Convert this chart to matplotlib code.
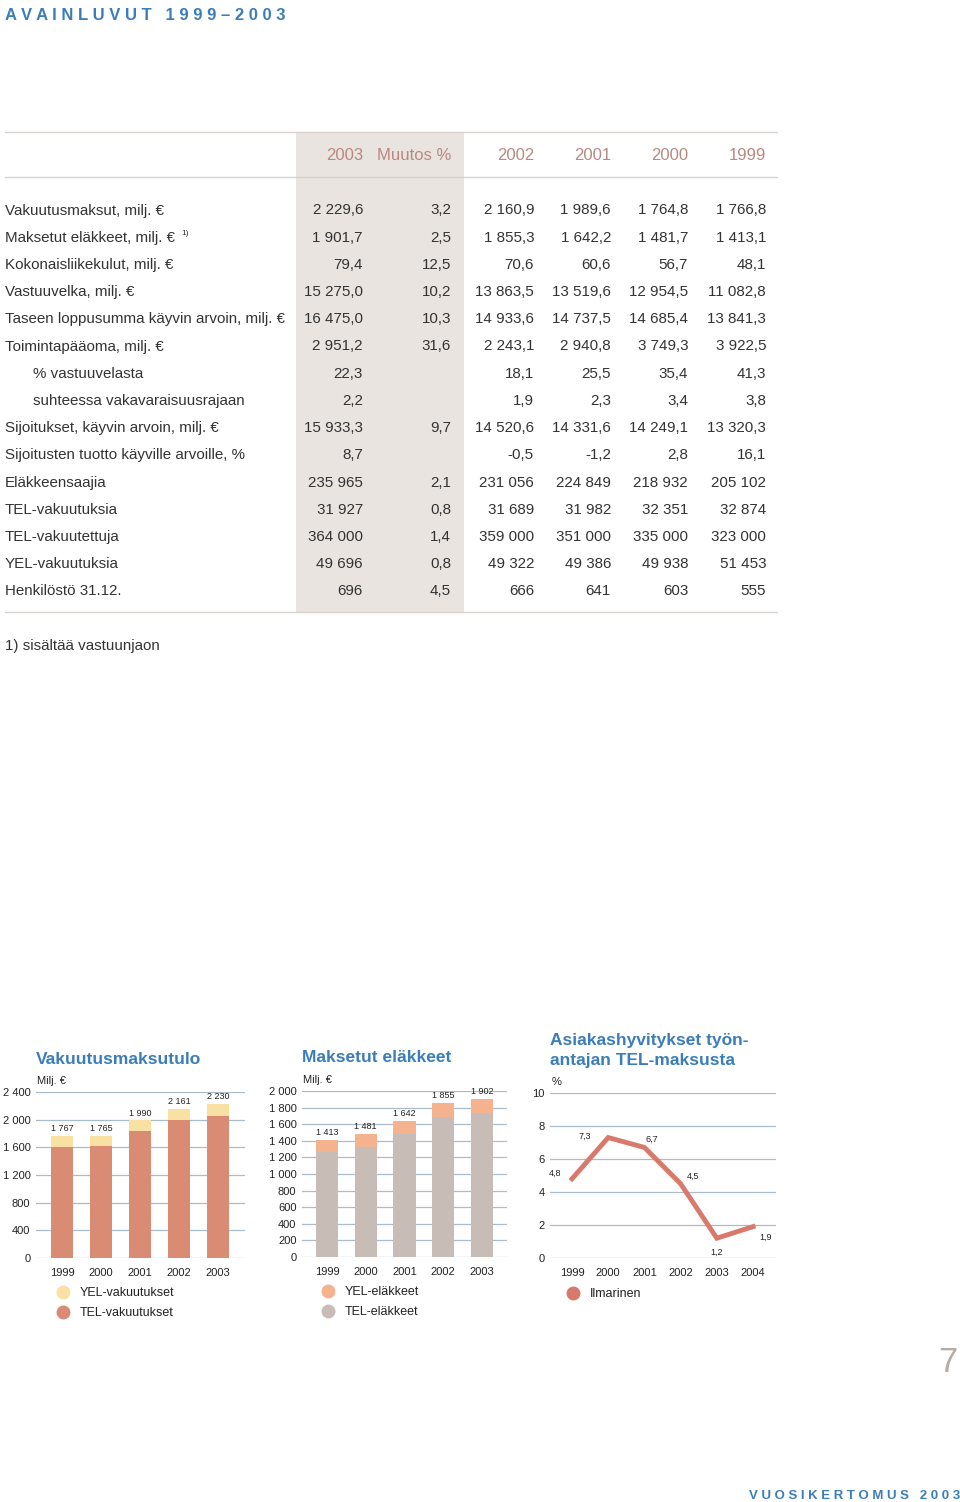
import matplotlib.pyplot as plt
from matplotlib.lines import Line2D
from matplotlib.patches import Rectangle
from matplotlib.ticker import FuncFormatter

# --- data ---
row_labels = ["Vakuutusmaksut, milj. €", "Maksetut eläkkeet, milj. €",
              "Kokonaisliikekulut, milj. €", "Vastuuvelka, milj. €",
              "Taseen loppusumma käyvin arvoin, milj. €", "Toimintapääoma, milj. €",
              "% vastuuvelasta", "suhteessa vakavaraisuusrajaan",
              "Sijoitukset, käyvin arvoin, milj. €",
              "Sijoitusten tuotto käyville arvoille, %", "Eläkkeensaajia",
              "TEL-vakuutuksia", "TEL-vakuutettuja", "YEL-vakuutuksia",
              "Henkilöstö 31.12."]
indented_rows = ["% vastuuvelasta", "suhteessa vakavaraisuusrajaan"]
col_headers = ["2003", "Muutos %", "2002", "2001", "2000", "1999"]
col_2003 = ["2 229,6", "1 901,7", "79,4", "15 275,0", "16 475,0", "2 951,2", "22,3", "2,2",
            "15 933,3", "8,7", "235 965", "31 927", "364 000", "49 696", "696"]
col_muutos = ["3,2", "2,5", "12,5", "10,2", "10,3", "31,6", "", "",
              "9,7", "", "2,1", "0,8", "1,4", "0,8", "4,5"]
col_2002 = ["2 160,9", "1 855,3", "70,6", "13 863,5", "14 933,6", "2 243,1", "18,1", "1,9",
            "14 520,6", "-0,5", "231 056", "31 689", "359 000", "49 322", "666"]
col_2001 = ["1 989,6", "1 642,2", "60,6", "13 519,6", "14 737,5", "2 940,8", "25,5", "2,3",
            "14 331,6", "-1,2", "224 849", "31 982", "351 000", "49 386", "641"]
col_2000 = ["1 764,8", "1 481,7", "56,7", "12 954,5", "14 685,4", "3 749,3", "35,4", "3,4",
            "14 249,1", "2,8", "218 932", "32 351", "335 000", "49 938", "603"]
col_1999 = ["1 766,8", "1 413,1", "48,1", "11 082,8", "13 841,3", "3 922,5", "41,3", "3,8",
            "13 320,3", "16,1", "205 102", "32 874", "323 000", "51 453", "555"]

years = ["1999", "2000", "2001", "2002", "2003"]
maksu_total = [1767, 1765, 1990, 2161, 2230]
maksu_tel = [1610, 1620, 1835, 2000, 2060]
elake_total = [1413, 1481, 1642, 1855, 1902]
elake_tel = [1270, 1330, 1480, 1690, 1730]
hyv_years = ["1999", "2000", "2001", "2002", "2003", "2004"]
hyv_values = [4.8, 7.3, 6.7, 4.5, 1.2, 1.9]

# --- styles ---
W, H = 960, 1502
BLUE = "#3b7db8"
TXT = "#333333"
HEAD = "#b98880"
GRID = "#a8bccb"
plt.rcParams['font.family'] = ['Liberation Sans', 'DejaVu Sans']

fig = plt.figure(figsize=(W / 100, H / 100), dpi=100)


def fx(x):
    return x / W


def fy(y):
    return 1 - y / H


def ftext(x, y, s, **kw):
    kw.setdefault('color', TXT)
    fig.text(fx(x), fy(y), s, **kw)


# title
ftext(5, 15, " ".join("AVAINLUVUT") + "   " + " ".join("1999–2003"),
      fontsize=12, fontweight='bold', color=BLUE, va='center')

# table
fig.add_artist(Rectangle((fx(296), fy(612)), fx(464) - fx(296), fy(132) - fy(612),
                         transform=fig.transFigure, facecolor="#e9e4e0", edgecolor='none', zorder=0))
for yl in (132, 177, 612):
    fig.add_artist(Line2D([fx(5), fx(777)], [fy(yl), fy(yl)], transform=fig.transFigure,
                          color="#d8d2ce", lw=1))

col_right = [363, 451, 534, 611, 688, 766]
ftext(363, 155, "2003", fontsize=12, color=HEAD, ha='right', va='center')
ftext(451, 155, "Muutos %", fontsize=12, color=HEAD, ha='right', va='center')
for xr, h in zip(col_right[2:], col_headers[2:]):
    ftext(xr, 155, h, fontsize=12, color=HEAD, ha='right', va='center')

cols = [col_2003, col_muutos, col_2002, col_2001, col_2000, col_1999]
for i, label in enumerate(row_labels):
    yr = 210.5 + i * 27.2
    xl = 33 if label in indented_rows else 5
    ftext(xl, yr, label, fontsize=10.9, va='center')
    if i == 1:
        ftext(181, yr - 4, "1)", fontsize=6, va='center')
    for xr, col in zip(col_right, cols):
        ftext(xr, yr, col[i], fontsize=10.9, ha='right', va='center')

ftext(5, 646, "1) sisältää vastuunjaon", fontsize=10.9, va='center')


def make_axes(x0, x1, y0, y1):
    ax = fig.add_axes([fx(x0), fy(y1), fx(x1) - fx(x0), fy(y0) - fy(y1)])
    ax.patch.set_alpha(0)
    for s in ax.spines.values():
        s.set_visible(False)
    ax.tick_params(length=0, labelsize=8, colors='#222222', pad=4)
    ax.grid(axis='y', color=GRID, lw=0.9)
    ax.set_axisbelow(True)
    return ax


thousands = FuncFormatter(lambda v, p: f"{int(v):,}".replace(",", " "))

# chart 1: Vakuutusmaksutulo
ax1 = make_axes(36, 245, 1092, 1258)
x = range(len(years))
maksu_yel = [t - b for t, b in zip(maksu_total, maksu_tel)]
ax1.bar(x, maksu_tel, width=0.56, color="#d98b74")
ax1.bar(x, maksu_yel, bottom=maksu_tel, width=0.56, color="#f9e0a3")
for i, v in enumerate(maksu_total):
    ax1.annotate(f"{v:,}".replace(",", " "), (i, v), xytext=(0, 2), textcoords='offset points',
                 ha='center', va='bottom', fontsize=6.5, color='#222222')
ax1.set_ylim(0, 2400)
ax1.set_yticks(range(0, 2401, 400))
ax1.yaxis.set_major_formatter(thousands)
ax1.set_xlim(-0.667, 4.69)
ax1.set_xticks(list(x))
ax1.set_xticklabels(years)
ax1.tick_params(axis='x', pad=7)
ftext(36, 1060, "Vakuutusmaksutulo", fontsize=12.5, fontweight='bold', color=BLUE, va='center')
ftext(37, 1081, "Milj. €", fontsize=8, va='center', color='#222222')

# chart 2: Maksetut eläkkeet
ax2 = make_axes(302, 507, 1091, 1257)
elake_yel = [t - b for t, b in zip(elake_total, elake_tel)]
ax2.bar(x, elake_tel, width=0.57, color="#c8bdb6")
ax2.bar(x, elake_yel, bottom=elake_tel, width=0.57, color="#f4b38e")
for i, v in enumerate(elake_total):
    ax2.annotate(f"{v:,}".replace(",", " "), (i, v), xytext=(0, 2), textcoords='offset points',
                 ha='center', va='bottom', fontsize=6.5, color='#222222')
ax2.set_ylim(0, 2000)
ax2.set_yticks(range(0, 2001, 200))
ax2.yaxis.set_major_formatter(thousands)
ax2.set_xlim(-0.645, 4.645)
ax2.set_xticks(list(x))
ax2.set_xticklabels(years)
ax2.tick_params(axis='x', pad=7)
ftext(302, 1058, "Maksetut eläkkeet", fontsize=12.5, fontweight='bold', color=BLUE, va='center')
ftext(303, 1080, "Milj. €", fontsize=8, va='center', color='#222222')

# chart 3: Asiakashyvitykset
ax3 = make_axes(550, 776, 1093, 1258)
xh = range(len(hyv_years))
ax3.plot(xh, hyv_values, color="#d9796c", lw=3.5, solid_joinstyle='miter')
offsets = [(-12, 4), (-17, 1), (5, 6), (9, 5), (0, -10), (9, -8)]
for i, (v, off) in enumerate(zip(hyv_values, offsets)):
    ax3.annotate(f"{v}".replace(".", ","), (i, v), xytext=off, textcoords='offset points',
                 ha='center', va='center', fontsize=6.5, color='#222222')
ax3.set_ylim(0, 10)
ax3.set_yticks(range(0, 11, 2))
ax3.set_xlim(-0.608, 5.635)
ax3.set_xticks(list(xh))
ax3.set_xticklabels(hyv_years)
ax3.tick_params(axis='x', pad=7)
ftext(550, 1041, "Asiakashyvitykset työn-", fontsize=12.5, fontweight='bold', color=BLUE, va='center')
ftext(550, 1060, "antajan TEL-maksusta", fontsize=12.5, fontweight='bold', color=BLUE, va='center')
ftext(552, 1082, "%", fontsize=8, va='center', color='#222222')

# legends
legend_items = [
    (63, 1292, "#f9e0a3", "YEL-vakuutukset"),
    (63, 1312, "#d98b74", "TEL-vakuutukset"),
    (328, 1291, "#f4b38e", "YEL-eläkkeet"),
    (328, 1311, "#c8bdb6", "TEL-eläkkeet"),
    (573, 1293, "#d9796c", "Ilmarinen"),
]
for lx, ly, c, lab in legend_items:
    fig.add_artist(Line2D([fx(lx)], [fy(ly)], transform=fig.transFigure, marker='o',
                          markersize=9, color=c, lw=0))
    ftext(lx + 17, ly + 1, lab, fontsize=9, va='center', color='#222222')

# page footer
ftext(957, 1362, "7", fontsize=25, color="#b5aca6", ha='right', va='center')
ftext(960, 1496, " ".join("VUOSIKERTOMUS") + "   " + " ".join("2003"),
      fontsize=9.5, fontweight='bold', color=BLUE, ha='right', va='center')

fig.savefig("out.png", dpi=100)
